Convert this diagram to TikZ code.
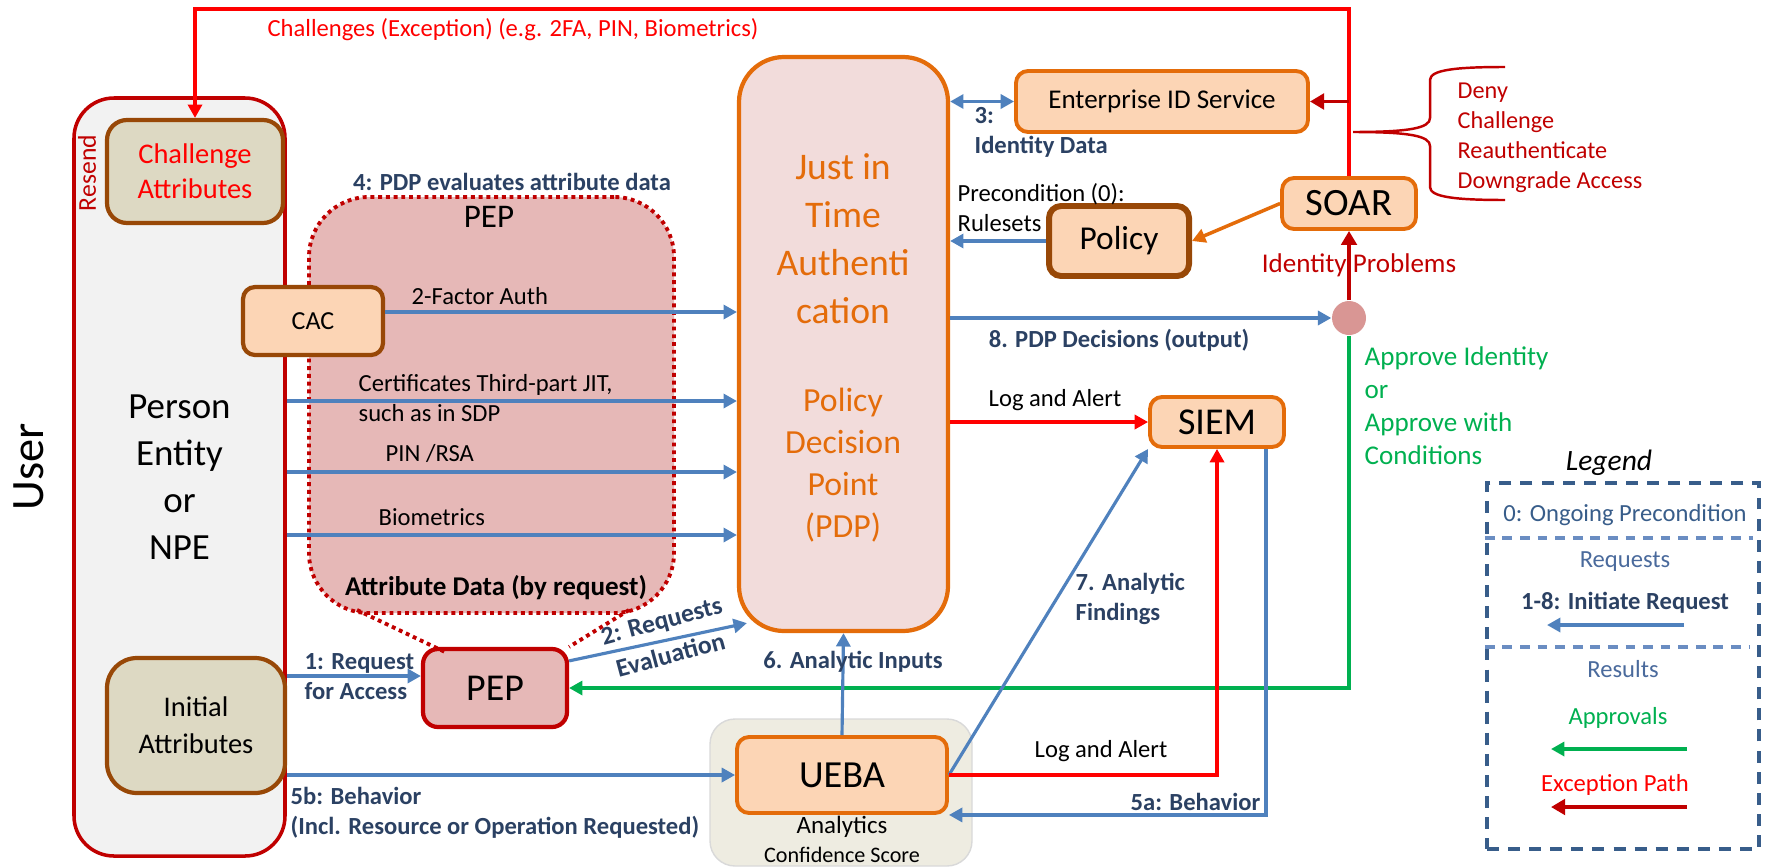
\documentclass[tikz,border=0pt]{standalone}
\usepackage{fontspec}
\setmainfont{Carlito}
\usetikzlibrary{arrows.meta}
\usetikzlibrary{positioning}
\definecolor{mnavy}{HTML}{2B4163}
\definecolor{mblue}{HTML}{4F81BD}
\definecolor{mred}{HTML}{FF0000}
\definecolor{mdred}{HTML}{C00000}
\definecolor{mgreen}{HTML}{00B050}
\definecolor{morange}{HTML}{E46C0A}
\definecolor{mbrown}{HTML}{984807}
\definecolor{mpeach}{HTML}{FCD5B5}
\definecolor{mtan}{HTML}{DDD9C3}
\definecolor{mpink}{HTML}{F2DCDB}
\definecolor{mrose}{HTML}{E6B8B7}
\definecolor{mdot}{HTML}{D99694}
\definecolor{mbeige}{HTML}{EEECE1}
\definecolor{mleg}{HTML}{385D8A}
\definecolor{mlegl}{HTML}{6A8DC2}
\definecolor{mlegt}{HTML}{4A6A9C}

\tikzset{
  box/.style={draw=morange, fill=mpeach, line width=1.1pt, rounded corners=0.12cm, inner sep=0pt, align=center},
  attr/.style={draw=mbrown, fill=mtan, line width=1.2pt, inner sep=0pt, align=center},
  req/.style={draw=mblue, line width=0.9pt, -{Triangle[length=3.8pt,width=4pt]}},
  exc/.style={draw=mred, line width=0.9pt, -{Triangle[length=3.8pt,width=4pt]}},
  excd/.style={draw=mdred, line width=1.1pt, -{Triangle[length=4pt,width=4.4pt]}},
  appr/.style={draw=mgreen, line width=0.9pt, -{Triangle[length=3.8pt,width=4pt]}},
  orng/.style={draw=morange, line width=1pt, -{Triangle[length=3.8pt,width=4pt]}},
  dots/.style={draw=mdred, line width=1.1pt, dash pattern=on 1.1pt off 1.1pt},
  lbl/.style={font=\fontsize{7}{8.5}\selectfont, inner sep=0pt},
  blbl/.style={inner sep=0pt, font=\fontsize{7}{8.5}\selectfont\bfseries, text=mnavy},
}

\begin{document}
\begin{tikzpicture}[x=1cm, y=-1cm]
      \useasboundingbox (0,0) rectangle (17.73,8.66);

      \node [draw=mdred, fill=black!5, line width=1pt, rounded corners=0.4cm, inner sep=0pt, minimum width=2.11cm, minimum height=7.58cm, align=center, font=\fontsize{10.5}{13.4}\selectfont] (user) at (1.795,4.77) {Person\\Entity\\or\\NPE};
      \node [rotate=90, font=\fontsize{13.2}{15}\selectfont] (usr) at (0.29,4.67) {User};
      \node [rotate=90, text=mdred, font=\fontsize{7.3}{8.5}\selectfont] (resend) at (0.87,1.73) {Resend};
      \node [attr, minimum width=1.76cm, minimum height=1.03cm, rounded corners=0.2cm, text=mred, font=\fontsize{8.1}{10}\selectfont] (chal) at (1.95,1.715) {Challenge\\Attributes};
      \node [attr, minimum width=1.78cm, minimum height=1.35cm, rounded corners=0.3cm, font=\fontsize{8.1}{10.5}\selectfont] (init) at (1.96,7.255) {Initial\\Attributes};

      \node [dots, fill=mrose, rounded corners=0.6cm, minimum width=3.65cm, minimum height=4.16cm] (pepzone) at (4.915,4.05) {};
      \coordinate (zl) at (3.57,6.10);
      \coordinate (zr) at (6.29,6.10);
      \node [draw=mdred, fill=mrose, line width=1.2pt, rounded corners=0.15cm, minimum width=1.44cm, minimum height=0.78cm, font=\fontsize{10.8}{13}\selectfont] (pep) at (4.95,6.88) {PEP};
      \draw [dots] (zl) -- ([shift={(0.26,0.06)}]pep.north west);
      \draw [dots] (zr) -- (pep.north east);
      \node [font=\fontsize{9.4}{11}\selectfont] (peplbl) at (4.89,2.17) {PEP};
      \node [font=\fontsize{7.7}{9}\selectfont\bfseries] (attrdata) at (4.96,5.88) {Attribute Data (by request)};
      \node [attr, fill=mpeach, minimum width=1.40cm, minimum height=0.68cm, rounded corners=0.12cm, font=\fontsize{7.4}{9}\selectfont] (cac) at (3.13,3.21) {CAC};

      \node [draw=morange, fill=mpink, line width=1.2pt, rounded corners=0.45cm, minimum width=2.09cm, minimum height=5.74cm] (pdp) at (8.435,3.44) {};
      \node [text=morange, align=center, font=\fontsize{10.7}{13.6}\selectfont] (jit) at (8.43,2.385) {Just in\\Time\\Authenti\\cation};
      \node [text=morange, align=center, font=\fontsize{9.6}{12}\selectfont] (pdpname) at (8.43,4.65) {Policy\\Decision\\Point\\(PDP)};

      \node [box, minimum width=2.92cm, minimum height=0.61cm, font=\fontsize{7.7}{9}\selectfont] (es) at (11.62,1.015) {Enterprise ID Service};
      \node [attr, fill=mpeach, line width=1.7pt, rounded corners=0.12cm, minimum width=1.40cm, minimum height=0.70cm, font=\fontsize{9.5}{11}\selectfont] (policy) at (11.19,2.41) {Policy};
      \node [box, minimum width=1.34cm, minimum height=0.51cm, font=\fontsize{11}{13}\selectfont] (soar) at (13.49,2.035) {SOAR};
      \node [box, minimum width=1.34cm, minimum height=0.50cm, font=\fontsize{10.8}{13}\selectfont] (siem) at (12.17,4.22) {SIEM};
      \node [circle, fill=mdot, minimum size=0.34cm, inner sep=0pt] (dec) at (13.49,3.18) {};

      \node [draw=black!15, fill=mbeige, rounded corners=0.25cm, minimum width=2.62cm, minimum height=1.47cm] (zone) at (8.41,7.925) {};
      \node [box, minimum width=2.10cm, minimum height=0.76cm, font=\fontsize{10.9}{13}\selectfont] (ueba) at (8.42,7.75) {UEBA};
      \node [font=\fontsize{7.1}{8.5}\selectfont, inner sep=0pt] (anl) at (8.42,8.27) {Analytics};
      \node [font=\fontsize{6.3}{7.5}\selectfont, inner sep=0pt] (conf) at (8.42,8.55) {Confidence Score};

      \coordinate (topl) at (0,0.09);
      \draw [exc] (soar.north) |- (chal.north |- topl) -- (chal.north);
      \draw [excd] (soar.north |- es.east) -- (es.east);
      \draw [mdred, line width=0.7pt] (15.05,0.67) .. controls (14.55,0.67) and (14.30,0.70) .. (14.30,0.80) -- (14.30,1.18) .. controls (14.30,1.28) and (14.10,1.32) .. (13.53,1.32) .. controls (14.10,1.32) and (14.30,1.36) .. (14.30,1.46) -- (14.30,1.87) .. controls (14.30,1.97) and (14.55,2.00) .. (15.05,2.00);
      \draw [excd] (dec) -- (soar.south);
      \draw [appr] (dec) |- (pep.east);
      \draw [req] (pdp.east |- dec) -- (dec);
      \draw [exc] (pdp.east |- siem.west) -- (siem.west);
      \draw [req, {Triangle[length=3.8pt,width=4pt]}-{Triangle[length=3.8pt,width=4pt]}] (pdp.east |- es.west) -- (es.west);
      \draw [req] (policy.west) -- (pdp.east |- policy.west);
      \draw [orng] (soar.west) -- (policy.east);

      \coordinate (y1) at (0,3.12);
      \coordinate (y2) at (0,4.01);
      \coordinate (y3) at (0,4.72);
      \coordinate (y4) at (0,5.35);
      \coordinate (y5) at (0,6.76);
      \draw [req] (cac.east |- y1) -- (pdp.west |- y1);
      \draw [req] (user.east |- y2) -- (pdp.west |- y2);
      \draw [req] (user.east |- y3) -- (pdp.west |- y3);
      \draw [req] (user.east |- y4) -- (pdp.west |- y4);
      \draw [req] (user.east |- y5) -- (pep.west |- y5);
      \draw [req] ([yshift=-0.14cm]pep.north east) -- ([shift={(0.1,-0.1)}]pdp.south west);
      \draw [req] (user.east |- ueba.west) -- (ueba.west);
      \draw [req] (ueba.north) -- (pdp.south);
      \draw [req] (ueba.east) -- (siem.south west);
      \draw [exc] (ueba.east) -| (siem.south);
      \draw [req] ([xshift=0.49cm]siem.south) |- (ueba.south east);

      \node [lbl, text=mred] (chl) at (5.13,0.30) {Challenges (Exception) (e.g. 2FA, PIN, Biometrics)};
      \node [blbl] (eval) at (5.12,1.82) {4: PDP evaluates attribute data};
      \node [lbl, anchor=west] (tfa) at (4.11,2.96) {2-Factor Auth};
      \node [lbl, anchor=west, align=left] (cert) at (3.58,3.98) {Certificates Third-part JIT,\\such as in SDP};
      \node [lbl, anchor=west] (pin) at (3.85,4.53) {PIN /RSA};
      \node [lbl, anchor=west] (bio) at (3.78,5.17) {Biometrics};
      \node [blbl, anchor=west, align=left] (idd) at (9.74,1.32) {3:\\Identity Data};
      \node [lbl, anchor=west, align=left] (pre) at (9.57,2.08) {Precondition (0):\\Rulesets};
      \node [blbl] (out) at (11.19,3.40) {8. PDP Decisions (output)};
      \node [lbl] (log1) at (10.55,4.00) {Log and Alert};
      \node [lbl] (log2) at (11.01,7.51) {Log and Alert};
      \node [blbl, anchor=west, align=left] (fnd) at (10.75,5.985) {7. Analytic\\Findings};
      \node [blbl] (inp) at (8.53,6.62) {6. Analytic Inputs};
      \node [blbl, anchor=east] (b5a) at (12.61,8.02) {5a: Behavior};
      \node [blbl, anchor=west, align=left] (b5b) at (2.90,8.125) {5b: Behavior\\(Incl. Resource or Operation Requested)};
      \node [blbl, anchor=west, align=left] (rq1) at (3.04,6.765) {1: Request\\for Access};
      \node [blbl, rotate=15, align=center, font=\fontsize{7.3}{10}\selectfont\bfseries] (rq2) at (6.66,6.38) {2: Requests\\Evaluation};

      \node [anchor=west, align=left, text=mdred, font=\fontsize{6.9}{8.5}\selectfont, inner sep=0pt] (acts) at (14.57,1.38) {Deny\\Challenge\\Reauthenticate\\Downgrade Access};
      \node [text=mdred, font=\fontsize{7.7}{9}\selectfont, inner sep=0pt] (idp) at (13.59,2.65) {Identity Problems};
      \node [anchor=west, align=left, text=mgreen, font=\fontsize{7.7}{9.4}\selectfont, inner sep=0pt] (apv) at (13.64,4.06) {Approve Identity\\or\\Approve with\\Conditions};

      \node [font=\fontsize{8.4}{10}\selectfont\itshape] (leg) at (16.09,4.63) {Legend};
      \node [draw=mleg, line width=1.2pt, dash pattern=on 3.4pt off 2.6pt, minimum width=2.72cm, minimum height=3.66cm] (legbox) at (16.23,6.66) {};
      \coordinate (s1) at (17.53,5.38);
      \coordinate (s2) at (17.50,6.47);
      \draw [mlegl, line width=0.9pt, dash pattern=on 2.8pt off 2.2pt] (legbox.west |- s1) -- (s1);
      \draw [mlegl, line width=0.9pt, dash pattern=on 2.8pt off 2.2pt] (legbox.west |- s2) -- (s2);
      \node [lbl, text=mleg] (l0) at (16.25,5.15) {0: Ongoing Precondition};
      \node [lbl, text=mlegt] (lrq) at (16.25,5.62) {Requests};
      \node [blbl] (l18) at (16.25,6.03) {1-8: Initiate Request};
      \node [lbl, text=mlegt] (lres) at (16.23,6.69) {Results};
      \node [lbl, text=mgreen] (lapp) at (16.18,7.18) {Approvals};
      \node [lbl, text=mred] (lexc) at (16.15,7.85) {Exception Path};
      \coordinate (la1) at (16.84,6.25);
      \coordinate (la2) at (15.47,6.25);
      \coordinate (lb1) at (16.87,7.49);
      \coordinate (lb2) at (15.51,7.49);
      \coordinate (lc1) at (16.87,8.07);
      \coordinate (lc2) at (15.51,8.07);
      \draw [req] (la1) -- (la2);
      \draw [appr] (lb1) -- (lb2);
      \draw [excd] (lc1) -- (lc2);
    \end{tikzpicture}
\end{document}
